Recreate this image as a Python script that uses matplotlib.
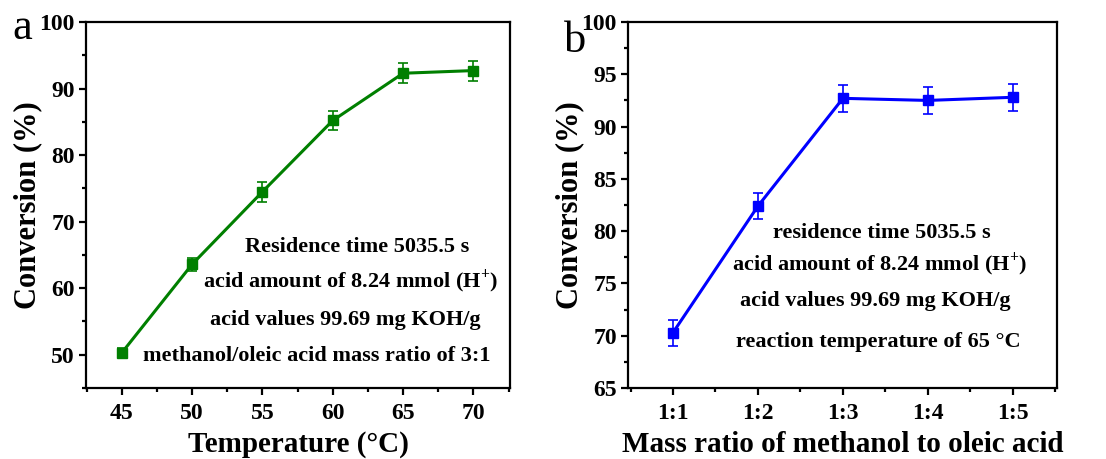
import matplotlib
matplotlib.use("Agg")
import matplotlib.pyplot as plt
from matplotlib.ticker import MultipleLocator

plt.rcParams['font.family'] = ['Liberation Serif', 'DejaVu Serif']
plt.rcParams['mathtext.fontset'] = 'custom'
plt.rcParams['mathtext.rm'] = 'Liberation Serif:bold'
plt.rcParams['mathtext.bf'] = 'Liberation Serif:bold'

# Panel a data
temperature = [45, 50, 55, 60, 65, 70]
conv_a = [50.3, 63.6, 74.5, 85.2, 92.3, 92.7]
err_a = [0.7, 1.0, 1.5, 1.4, 1.5, 1.5]

# Panel b data
ratio_labels = ['1:1', '1:2', '1:3', '1:4', '1:5']
conv_b = [70.3, 82.4, 92.7, 92.5, 92.8]
err_b = [1.25, 1.2, 1.3, 1.3, 1.3]

notes_a = ['Residence time 5035.5 s',
           'acid amount of 8.24 mmol (H$^{+}$)',
           'acid values 99.69 mg KOH/g',
           'methanol/oleic acid mass ratio of 3:1']
notes_b = ['residence time 5035.5 s',
           'acid amount of 8.24 mmol (H$^{+}$)',
           'acid values 99.69 mg KOH/g',
           'reaction temperature of 65 \u00b0C']

W, H = 1106, 459
fig = plt.figure(figsize=(W / 100, H / 100), dpi=100)


def px_axes(left, top, right, bottom):
    return fig.add_axes([left / W, 1 - bottom / H, (right - left) / W, (bottom - top) / H])


def style(ax):
    for s in ax.spines.values():
        s.set_linewidth(1.6)
    ax.tick_params(which='both', direction='out', top=False, right=False,
                   width=1.6, labelsize=17)
    ax.tick_params(which='major', length=5, pad=3)
    ax.tick_params(axis='x', which='major', pad=6)
    ax.tick_params(which='minor', length=3)
    for lab in ax.get_xticklabels() + ax.get_yticklabels():
        lab.set_fontweight('bold')


# ---- Panel a ----
axa = px_axes(86, 22, 510, 388)
axa.errorbar(temperature, conv_a, yerr=err_a, color='#007f00', lw=2.2,
             marker='s', ms=6.5, capsize=3.5, elinewidth=1.2, capthick=1.2)
axa.set_xlim(42.45, 72.6)
axa.set_ylim(45, 100)
axa.xaxis.set_major_locator(MultipleLocator(5))
axa.xaxis.set_minor_locator(MultipleLocator(2.5))
axa.yaxis.set_major_locator(MultipleLocator(10))
axa.yaxis.set_minor_locator(MultipleLocator(5))
axa.set_yticks([50, 60, 70, 80, 90, 100])
style(axa)
axa.set_xlabel('Temperature (\u00b0C)', fontsize=21, fontweight='bold', labelpad=5)
axa.set_ylabel('Conversion (%)', fontsize=22, fontweight='bold', labelpad=-2)

centers_a = [357, 351, 345, 317]
bases_a = [252, 288, 325, 361]
for t, cx, by in zip(notes_a, centers_a, bases_a):
    fig.text(cx / W, 1 - by / H, t, ha='center', va='baseline',
             fontsize=16, fontweight='bold')

fig.text(12 / W, 1 - 39 / H, 'a', fontsize=32, va='baseline', ha='left')

# ---- Panel b ----
axb = px_axes(628, 22, 1057, 388)
xb = list(range(1, len(ratio_labels) + 1))
axb.errorbar(xb, conv_b, yerr=err_b, color='#0000ff', lw=2.2,
             marker='s', ms=6.5, capsize=3.5, elinewidth=1.2, capthick=1.2)
axb.set_xlim(0.47, 5.52)
axb.set_ylim(65, 100)
axb.set_xticks(xb)
axb.set_xticklabels(ratio_labels)
axb.xaxis.set_minor_locator(MultipleLocator(0.5))
axb.yaxis.set_major_locator(MultipleLocator(5))
axb.yaxis.set_minor_locator(MultipleLocator(2.5))
style(axb)
axb.set_xlabel('Mass ratio of methanol to oleic acid', fontsize=21,
               fontweight='bold', labelpad=5)
axb.set_ylabel('Conversion (%)', fontsize=22, fontweight='bold', labelpad=-2)

centers_b = [882, 880, 875, 878]
bases_b = [238, 271, 306, 347]
for t, cx, by in zip(notes_b, centers_b, bases_b):
    fig.text(cx / W, 1 - by / H, t, ha='center', va='baseline',
             fontsize=16, fontweight='bold')

fig.text(564 / W, 1 - 52 / H, 'b', fontsize=32, va='baseline', ha='left')

fig.savefig('out.png', dpi=100)
